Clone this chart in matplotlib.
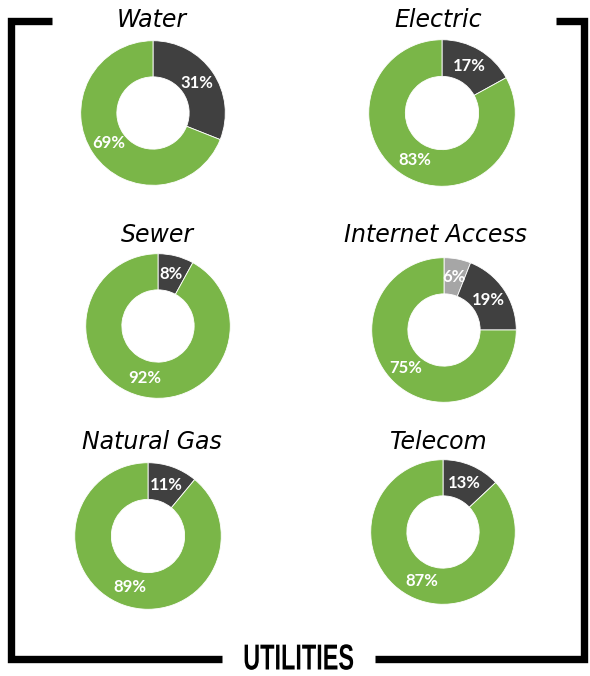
import matplotlib
matplotlib.use("Agg")
import matplotlib.pyplot as plt
from matplotlib.patheffects import AbstractPathEffect
from matplotlib.transforms import Affine2D

W, H = 590, 676

names = ["Water", "Electric", "Sewer", "Internet Access", "Natural Gas", "Telecom"]
gray_pct = [0, 0, 0, 6, 0, 0]
dark_pct = [31, 17, 8, 19, 11, 13]
green_pct = [69, 83, 92, 75, 89, 87]

# layout in pixels: donut centre, radius, title centre
centers = [(153, 113), (442, 113), (158, 326), (444, 330), (148, 536), (443, 532)]
radius = [73, 74, 73, 73, 74, 73]
title_pos = [(152, 20), (438, 20), (157, 235), (435, 235), (152, 442), (439, 442)]

GREEN = "#7AB648"
DARK = "#404040"
GRAY = "#A6A6A6"


class Squeeze(AbstractPathEffect):
    # narrow the glyphs horizontally around x = cx (display pixels)
    def __init__(self, sx, cx):
        super().__init__()
        self.sx = sx
        self.cx = cx

    def draw_path(self, renderer, gc, tpath, affine, rgbFace=None):
        t = affine + Affine2D().translate(-self.cx, 0).scale(self.sx, 1).translate(self.cx, 0)
        renderer.draw_path(gc, tpath, t, rgbFace)


fig = plt.figure(figsize=(W / 100, H / 100), dpi=100)

# background axes in pixel coords for frame and titles
bg = fig.add_axes([0, 0, 1, 1])
bg.set_xlim(0, W)
bg.set_ylim(H, 0)
bg.axis("off")

lw = 5.3
bg.plot([52, 11, 11, 222], [20.5, 20.5, 658.5, 658.5], color="black", lw=lw,
        solid_joinstyle="miter", solid_capstyle="butt")
bg.plot([556, 583.5, 583.5, 375], [20.5, 20.5, 658.5, 658.5], color="black", lw=lw,
        solid_joinstyle="miter", solid_capstyle="butt")
bg.text(298.5, 660, "UTILITIES", ha="center", va="center", fontsize=26,
        fontweight="bold", color="black", family="Liberation Sans",
        path_effects=[Squeeze(0.65, 298.5)])

for i, name in enumerate(names):
    tx, ty = title_pos[i]
    bg.text(tx, ty, name, ha="center", va="center", fontsize=17,
            style="italic", family="DejaVu Sans", color="black")

    cx, cy = centers[i]
    r = radius[i]
    ax = fig.add_axes([(cx - r) / W, 1 - (cy + r) / H, 2 * r / W, 2 * r / H])
    vals, cols = [], []
    for v, c in zip([gray_pct[i], dark_pct[i], green_pct[i]], [GRAY, DARK, GREEN]):
        if v > 0:
            vals.append(v)
            cols.append(c)
    ax.pie(vals, colors=cols, startangle=90, counterclock=False, radius=1,
           wedgeprops=dict(width=0.5, edgecolor="white", linewidth=0.6),
           autopct=lambda p: f"{p:.0f}%", pctdistance=0.74,
           textprops=dict(color="white", fontsize=12, fontweight="bold", family="Lato"))
    ax.set_xlim(-1.01, 1.01)
    ax.set_ylim(-1.01, 1.01)
    ax.set_aspect("equal")
    ax.axis("off")

fig.savefig("out.png", dpi=100)
